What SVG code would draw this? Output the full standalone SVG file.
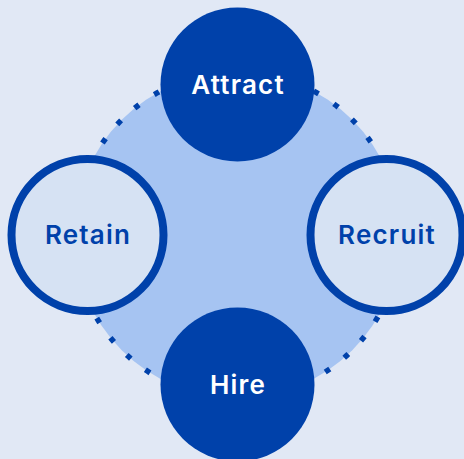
<svg xmlns="http://www.w3.org/2000/svg" width="464" height="459" viewBox="0 0 464 459">
<style>
.lbl{font-family:"Inter","Liberation Sans",sans-serif;font-weight:600;font-size:26px;letter-spacing:1.2px;text-anchor:middle}
.filled{fill:#0041AA}
.outline{fill:#D6E2F3;stroke:#0041AA;stroke-width:8}
.w{fill:#FFFFFF}
.d{fill:#0041AA}
</style>
<rect width="464" height="459" fill="#E1E8F5"/>
<g id="connectors">
<circle cx="237" cy="235" r="163" fill="#A6C4F2" stroke="#0041AA" stroke-width="5.5" pathLength="430" stroke-dasharray="2.3 7.7" stroke-dashoffset="-6.05"/>
</g>
<g id="attract">
<circle class="filled" cx="237.5" cy="84.5" r="77"/>
<text class="lbl w" x="238" y="93.5">Attract</text>
</g>
<g id="recruit">
<circle class="outline" cx="386.5" cy="235" r="76"/>
<text class="lbl d" x="387" y="244">Recruit</text>
</g>
<g id="hire">
<circle class="filled" cx="237.5" cy="384.5" r="77"/>
<text class="lbl w" x="238" y="393.5">Hire</text>
</g>
<g id="retain">
<circle class="outline" cx="87.5" cy="235" r="76"/>
<text class="lbl d" x="88" y="244">Retain</text>
</g>
</svg>
